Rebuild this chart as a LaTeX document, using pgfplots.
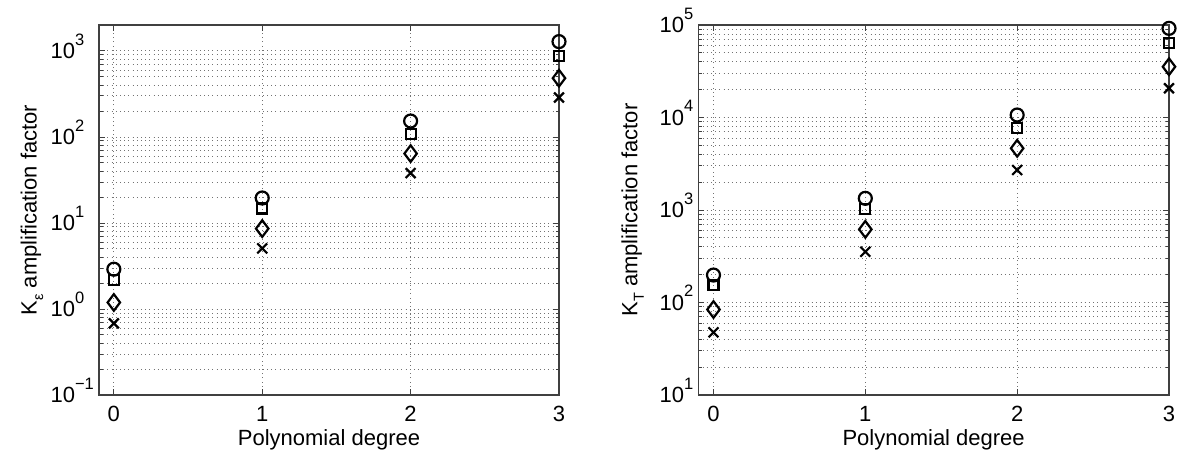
\documentclass[border=0pt]{standalone}
\usepackage{fontspec}
\setmainfont{Liberation Sans}
\usepackage{pgfplots}
\pgfplotsset{compat=1.18}
\newcommand{\tl}[1]{10\raisebox{13.5pt}{\fontsize{16.5}{16.5}\selectfont #1}}
\pgfplotsset{
  mystyle/.style={
    scale only axis,
    anchor=south west,
    height=370pt,
    xmin=-0.1, xmax=3,
    xtick={0,1,2,3},
    xticklabels={0,1,2,3},
    clip=false,
    axis line style={line width=1.2pt, black!75},
    tick style={line width=0.8pt, black!75},
    major tick length=6pt,
    minor tick length=3.5pt,
    tick align=inside,
    xmajorgrids=true, ymajorgrids=true, yminorgrids=true,
    grid style={black!55, line width=0.8pt, dash pattern=on 0.8pt off 3.4pt},
    minor grid style={black!55, line width=0.8pt, dash pattern=on 0.8pt off 3.4pt},
    tick label style={font=\fontsize{22}{22}\selectfont, inner sep=0pt},
    xticklabel style={anchor=base, yshift=-26.7pt},
    label style={font=\fontsize{22}{22}\selectfont, inner sep=0pt},
    xlabel style={at={(rel axis cs:0.5,0)}, anchor=base, yshift=-50pt},
    xlabel={Polynomial degree},
  },
  mk/.style={only marks, black, line width=2.2pt, mark options={solid}},
}
\begin{document}
\begin{tikzpicture}
\useasboundingbox (0,0) rectangle (1177pt,451pt);
\begin{axis}[mystyle, ymode=log,
  at={(99pt,56pt)}, width=460pt,
  ymin=0.1, ymax=2000,
  ytick={0.1,1,10,100,1000},
  yticklabels={\tl{−1},\tl{0},\tl{1},\tl{2},\tl{3}},
  yticklabel style={anchor=base west, xshift=-48.6pt, yshift=-7.8pt},
  ylabel style={at={(rel axis cs:-0.1354,0.5)}, anchor=base},
  ylabel={K\raisebox{-6.5pt}{\fontsize{14.5}{14.5}\selectfont ε}\ amplification factor},
]
\addplot[mk, mark=o, mark size=6.5pt] coordinates {(0,2.9) (1,19.5) (2,153) (3,1282)};
\addplot[mk, mark=square, mark size=5pt] coordinates {(0,2.17) (1,14.7) (2,108) (3,875)};
\addplot[mk, mark=diamond, mark size=8.3pt] coordinates {(0,1.19) (1,8.6) (2,64) (3,482)};
\addplot[mk, mark=x, mark size=7pt] coordinates {(0,0.68) (1,5.06) (2,38) (3,287)};
\end{axis}
\begin{axis}[mystyle, ymode=log,
  at={(698.3pt,56pt)}, width=470.7pt,
  ymin=10, ymax=100000,
  ytick={10,100,1000,10000,100000},
  yticklabels={\tl{1},\tl{2},\tl{3},\tl{4},\tl{5}},
  yticklabel style={anchor=base west, xshift=-38.9pt, yshift=-7.8pt},
  ylabel style={at={(rel axis cs:-0.1295,0.5)}, anchor=base},
  ylabel={K\raisebox{-6.5pt}{\fontsize{14.5}{14.5}\selectfont T}\ amplification factor},
]
\addplot[mk, mark=o, mark size=6.5pt] coordinates {(0,198) (1,1337) (2,10640) (3,92000)};
\addplot[mk, mark=square, mark size=5pt] coordinates {(0,154) (1,1018) (2,7760) (3,63400)};
\addplot[mk, mark=diamond, mark size=8.3pt] coordinates {(0,84) (1,618) (2,4645) (3,35400)};
\addplot[mk, mark=x, mark size=7pt] coordinates {(0,47.6) (1,354) (2,2706) (3,20700)};
\end{axis}
\end{tikzpicture}
\end{document}
